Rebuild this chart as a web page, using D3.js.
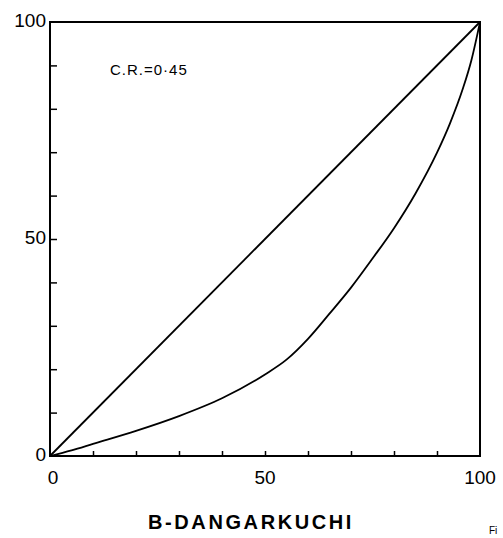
<!DOCTYPE html>
<html><head><meta charset="utf-8">
<script src="https://cdn.jsdelivr.net/npm/d3@7"></script>
<style>body{margin:0;background:#fff}svg{display:block}</style>
</head><body>
<script>
const lorenzX = [0, 5, 10, 20, 30, 40, 50, 55, 60, 65, 70, 75, 80, 85, 90, 93, 96, 98, 100];
const lorenzY = [0, 1.3, 2.8, 5.8, 9.2, 13.3, 18.8, 22.2, 27, 32.8, 38.8, 45.5, 52.5, 60.5, 69.9, 76.6, 84.6, 91.2, 100];
const equalityX = [0, 100];
const equalityY = [0, 100];
const tickValues = [0, 10, 20, 30, 40, 50, 60, 70, 80, 90, 100];
const tickLabels = [0, 50, 100];
const ratioLabel = "C.R.=0·45";
const title = "B-DANGARKUCHI";

const W = 503, H = 538;
const m = {l: 50, r: 23, t: 22, b: 82};
const svg = d3.select("body").append("svg").attr("width", W).attr("height", H);
const x = d3.scaleLinear().domain([0, 100]).range([m.l, W - m.r]);
const y = d3.scaleLinear().domain([0, 100]).range([H - m.b, m.t]);
const font = "'Liberation Sans', Arial, sans-serif";

// frame
svg.append("rect").attr("x", x(0)).attr("y", y(100)).attr("width", x(100) - x(0)).attr("height", y(0) - y(100))
  .attr("fill", "none").attr("stroke", "#000").attr("stroke-width", 2);

// inner ticks
const xAxis = d3.axisTop(x).tickValues(tickValues.slice(1, -1)).tickSize(5).tickFormat("");
svg.append("g").attr("transform", `translate(0,${y(0)})`).call(xAxis)
  .call(g => g.select(".domain").remove()).selectAll("line").attr("stroke-width", 1.5);
const yAxis = d3.axisRight(y).tickValues(tickValues.slice(1, -1)).tickSize(7).tickFormat("");
svg.append("g").attr("transform", `translate(${x(0)},0)`).call(yAxis)
  .call(g => g.select(".domain").remove()).selectAll("line").attr("stroke-width", 1.5);

// tick labels
svg.append("g").selectAll("text").data(tickLabels).join("text")
  .attr("x", x(0) - 4).attr("y", d => y(d) - 2).attr("dy", "0.35em")
  .attr("text-anchor", "end").attr("font-family", font).attr("font-size", 19)
  .text(d => d);
svg.append("g").selectAll("text").data(tickLabels).join("text")
  .attr("x", d => x(d) + (d === 0 ? 3 : 0)).attr("y", y(0) + 28)
  .attr("text-anchor", "middle").attr("font-family", font).attr("font-size", 19)
  .text(d => d);

// lines
const line = d3.line().x(d => x(d[0])).y(d => y(d[1]));
svg.append("path").datum(d3.zip(equalityX, equalityY)).attr("d", line)
  .attr("fill", "none").attr("stroke", "#000").attr("stroke-width", 1.8);
svg.append("path").datum(d3.zip(lorenzX, lorenzY)).attr("d", line.curve(d3.curveMonotoneX))
  .attr("fill", "none").attr("stroke", "#000").attr("stroke-width", 1.8);

svg.append("text").attr("x", 110).attr("y", 75).attr("font-family", font).attr("font-size", 15)
  .attr("letter-spacing", 1).text(ratioLabel);

svg.append("text").attr("x", 148).attr("y", 529).attr("font-family", font).attr("font-size", 20)
  .attr("font-weight", "bold").attr("letter-spacing", 2.6).text(title);
svg.append("text").attr("x", 489).attr("y", 534).attr("font-family", font).attr("font-size", 10).text("Fi");
</script>
</body></html>
